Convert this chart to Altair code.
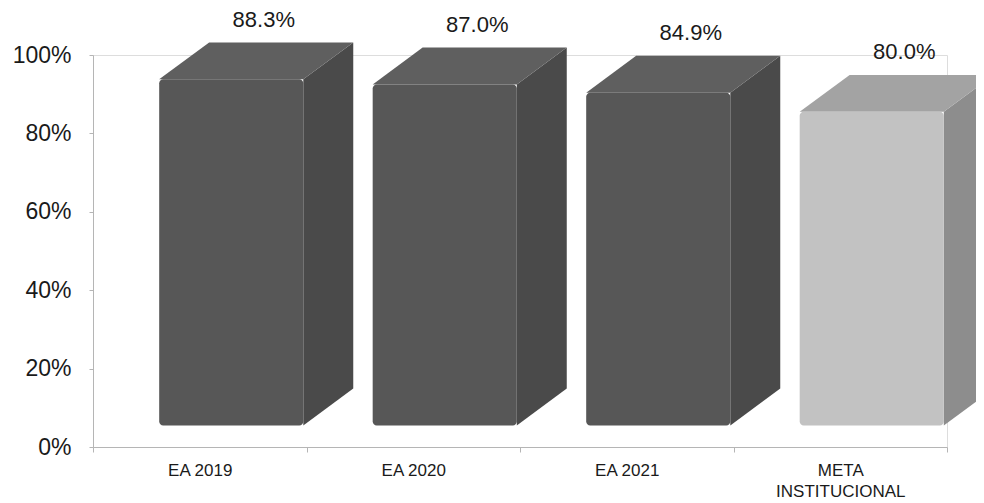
import json
import altair as alt
import pandas as pd

# ---- data ----
categories = ["EA 2019", "EA 2020", "EA 2021", "META INSTITUCIONAL"]
values = [88.3, 87.0, 84.9, 80.0]
kinds = ["real", "real", "real", "meta"]
y_ticks = [0, 20, 40, 60, 80, 100]

# ---- 3-D look (style constants, in data units) ----
BASE = 5.5      # front face starts a bit above 0, like the Excel 3-D chart
DX = 0.234      # depth offset along x (fraction of a category band)
DY = 9.4        # depth offset along y (percentage points)
X0, X1 = 0.31, 0.985   # front face position inside the band
LBL_X, LBL_DY = 0.80, 4.0

front, top, side, labels = [], [], [], []
for i, (c, v, k) in enumerate(zip(categories, values, kinds)):
    front.append({"idx": i, "x": i + X0, "x2": i + X1, "y": BASE, "y2": v + BASE,
                  "face": f"front-{k}"})
    top.append({"idx": i, "y": v + BASE, "x": i + X0, "x2": i + X1, "face": f"top-{k}"})
    top.append({"idx": i, "y": v + BASE + DY, "x": i + X0 + DX, "x2": i + X1 + DX,
                "face": f"top-{k}"})
    side.append({"idx": i, "x": i + X1, "y": BASE, "y2": v + BASE, "face": f"side-{k}"})
    side.append({"idx": i, "x": i + X1 + DX, "y": BASE + DY, "y2": v + BASE + DY,
                 "face": f"side-{k}"})
    labels.append({"x": i + LBL_X, "y": v + BASE + DY + LBL_DY, "text": f"{v:.1f}%"})

front_df = pd.DataFrame(front)
top_df = pd.DataFrame(top)
side_df = pd.DataFrame(side)
label_df = pd.DataFrame(labels)

label_lines = [c.split(" ") if c.startswith("META") else c for c in categories]
label_js = json.dumps(label_lines)

x_values = [i * 0.5 for i in range(2 * len(categories) + 1)]

FONT = "Liberation Sans"
AX_COLOR = "#b5b5b5"

x_axis = alt.Axis(
    values=x_values,
    labelExpr=f"datum.value % 1 == 0.5 ? {label_js}[floor(datum.value)] : ''",
    title=None, grid=False, domainColor=AX_COLOR, tickColor=AX_COLOR,
    tickSize=5,
    tickOpacity={"condition": {"test": "datum.value % 1 == 0", "value": 1}, "value": 0},
    labelFont=FONT, labelFontSize=17, labelColor="#1a1a1a", labelPadding=10,
    labelAlign="center", labelBaseline="top", labelLineHeight=21,
    labelOverlap=False, labelFlush=False,
)
y_axis = alt.Axis(
    values=y_ticks, labelExpr="datum.value + '%'", title=None, grid=False,
    domainColor=AX_COLOR, tickColor=AX_COLOR, tickSize=4,
    labelFont=FONT, labelFontSize=23, labelColor="#1a1a1a", labelPadding=18,
)
x_scale = alt.Scale(domain=[0, len(categories)], nice=False, zero=False)
y_scale = alt.Scale(domain=[0, 100], nice=False)

face_domain = ["front-real", "top-real", "side-real", "front-meta", "top-meta", "side-meta"]
face_range = ["#575757", "#5f5f5f", "#4a4a4a", "#c2c2c2", "#a3a3a3", "#8d8d8d"]
fill = alt.Color("face:N", scale=alt.Scale(domain=face_domain, range=face_range), legend=None)

front_layer = alt.Chart(front_df).mark_rect(cornerRadius=4).encode(
    x=alt.X("x:Q", scale=x_scale, axis=x_axis), x2="x2:Q",
    y=alt.Y("y:Q", scale=y_scale, axis=y_axis), y2="y2:Q",
    color=fill,
)
top_layer = alt.Chart(top_df).mark_area(orient="horizontal").encode(
    y=alt.Y("y:Q", scale=y_scale, axis=y_axis),
    x=alt.X("x:Q", scale=x_scale, axis=x_axis), x2="x2:Q",
    detail="idx:N", color=fill,
)
side_layer = alt.Chart(side_df).mark_area(orient="vertical").encode(
    x=alt.X("x:Q", scale=x_scale, axis=x_axis),
    y=alt.Y("y:Q", scale=y_scale, axis=y_axis), y2="y2:Q",
    detail="idx:N", color=fill,
)
text_layer = alt.Chart(label_df).mark_text(
    font=FONT, fontSize=22, color="#1a1a1a", align="center", baseline="alphabetic"
).encode(
    x=alt.X("x:Q", scale=x_scale, axis=x_axis),
    y=alt.Y("y:Q", scale=y_scale, axis=y_axis),
    text="text:N",
)

chart = alt.layer(side_layer, top_layer, front_layer, text_layer).properties(
    width=854, height=392,
    autosize=alt.AutoSizeParams(type="none"),
    padding={"left": 85, "top": 47, "right": 29, "bottom": 56},
).configure_view(stroke=None).configure(background="white")

chart.save("out.html", embed_options={"renderer": "svg", "actions": False})
